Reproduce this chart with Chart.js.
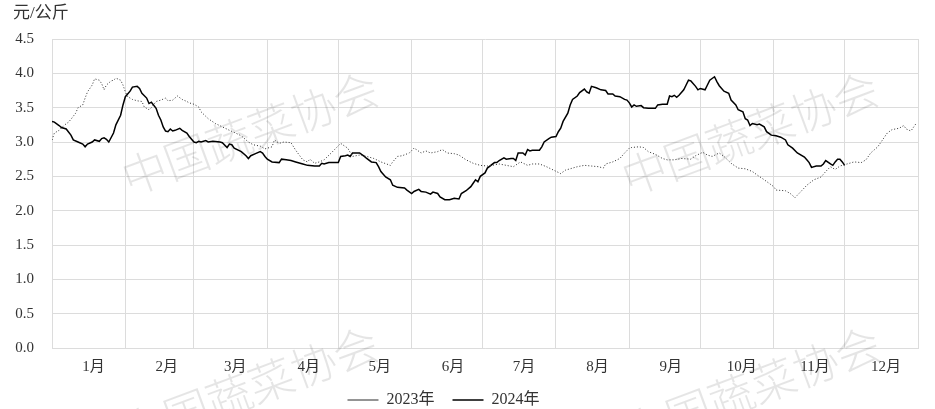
<!DOCTYPE html>
<html>
<head>
<meta charset="utf-8">
<script src="https://cdn.jsdelivr.net/npm/chart.js@4.4.1/dist/chart.umd.min.js"></script>
<style>
  html, body { margin: 0; padding: 0; background: #fff; }
  #wrap { width: 935px; height: 409px; position: relative; }
</style>
</head>
<body>
<div id="wrap"><canvas id="c"></canvas></div>
<script>
// ---- data (day index within the year, value in 元/公斤) ----
const monthLabels = ['1月','2月','3月','4月','5月','6月','7月','8月','9月','10月','11月','12月'];
const monthStarts = [0,31,60,91,121,152,182,213,244,274,305,335,366];
const yTickLabels = ['0.0','0.5','1.0','1.5','2.0','2.5','3.0','3.5','4.0','4.5'];
const seriesNames = ['2023年','2024年'];

const days2023 = [0,1,3,5,7,8,10,11,13,14,15,17,18,20,21,22,23,25,26,27,29,30,31,32,34,35,36,38,39,41,42,44,46,48,49,51,53,55,57,58,60,62,63,66,69,72,75,77,80,83,85,88,90,93,94,96,98,101,103,106,108,109,111,113,115,118,120,122,125,127,130,133,136,139,143,144,146,148,151,153,154,156,158,160,163,165,167,170,172,175,178,181,184,186,189,192,195,198,201,203,206,209,212,215,217,220,222,225,228,231,233,234,237,240,242,244,245,248,250,252,255,258,260,263,266,270,272,275,277,279,282,284,287,290,293,296,298,301,305,306,310,312,314,316,319,322,325,327,329,331,333,336,339,342,344,346,349,351,353,355,358,360,361,363,365];
const values2023 = [3.03,3.13,3.17,3.24,3.29,3.33,3.42,3.50,3.54,3.64,3.73,3.83,3.92,3.90,3.85,3.76,3.83,3.89,3.90,3.93,3.90,3.83,3.73,3.66,3.62,3.61,3.60,3.59,3.51,3.47,3.50,3.59,3.61,3.64,3.60,3.61,3.67,3.62,3.59,3.57,3.55,3.51,3.44,3.34,3.27,3.22,3.17,3.14,3.09,3.00,2.96,2.94,2.90,2.93,3.03,2.98,3.00,2.99,2.88,2.74,2.71,2.75,2.69,2.71,2.74,2.84,2.91,2.98,2.91,2.79,2.81,2.79,2.76,2.71,2.66,2.71,2.79,2.80,2.84,2.91,2.89,2.84,2.87,2.84,2.86,2.89,2.84,2.83,2.81,2.74,2.69,2.66,2.65,2.66,2.68,2.66,2.64,2.71,2.66,2.68,2.68,2.64,2.59,2.54,2.59,2.62,2.64,2.66,2.65,2.64,2.62,2.68,2.71,2.76,2.84,2.91,2.92,2.93,2.92,2.86,2.82,2.76,2.74,2.74,2.76,2.75,2.80,2.85,2.81,2.79,2.84,2.79,2.69,2.62,2.61,2.57,2.52,2.45,2.35,2.30,2.29,2.25,2.19,2.26,2.37,2.45,2.49,2.57,2.64,2.60,2.65,2.68,2.71,2.70,2.74,2.84,2.93,3.03,3.13,3.18,3.20,3.24,3.19,3.16,3.26];

const days2024 = [0,1,3,4,6,8,9,11,13,14,15,17,18,20,21,22,23,24,26,27,29,30,31,33,34,36,37,38,40,41,42,44,45,46,47,48,49,50,51,52,54,55,57,58,60,61,62,63,65,66,68,71,72,74,75,76,77,80,82,83,84,86,88,89,90,91,93,96,97,99,101,103,106,108,111,113,114,115,117,119,121,122,124,125,126,127,129,130,132,133,135,137,138,139,141,143,144,146,149,150,152,153,155,156,158,160,161,163,164,166,168,170,172,173,175,177,178,179,180,181,183,184,187,188,189,191,192,194,195,196,197,199,200,201,202,203,206,207,208,210,211,213,214,215,216,218,219,220,222,223,225,226,227,228,230,232,234,235,237,238,240,242,243,244,245,246,247,249,250,252,255,256,258,260,261,262,263,264,265,267,268,269,270,272,273,274,276,277,278,280,281,282,284,286,287,289,290,292,293,294,295,296,298,299,301,302,304,306,308,310,311,313,315,318,319,320,321,323,325,326,327,329,330,331,332,333,334,335];
const values2024 = [3.30,3.29,3.24,3.21,3.19,3.10,3.03,3.00,2.97,2.93,2.97,3.00,3.03,3.01,3.05,3.06,3.04,3.00,3.13,3.25,3.39,3.54,3.66,3.74,3.80,3.81,3.78,3.71,3.64,3.56,3.58,3.49,3.39,3.32,3.22,3.16,3.15,3.19,3.16,3.17,3.20,3.17,3.13,3.08,3.00,2.99,3.01,3.00,3.02,3.00,3.01,3.00,2.99,2.92,2.97,2.96,2.91,2.86,2.80,2.76,2.80,2.83,2.86,2.84,2.79,2.75,2.71,2.70,2.75,2.74,2.73,2.71,2.68,2.66,2.65,2.65,2.69,2.68,2.70,2.70,2.70,2.79,2.80,2.81,2.79,2.84,2.84,2.84,2.79,2.76,2.71,2.70,2.64,2.57,2.49,2.45,2.37,2.34,2.33,2.30,2.25,2.28,2.31,2.28,2.27,2.24,2.27,2.25,2.20,2.16,2.16,2.18,2.17,2.25,2.29,2.35,2.40,2.45,2.42,2.50,2.55,2.62,2.70,2.70,2.73,2.77,2.75,2.76,2.76,2.73,2.84,2.84,2.81,2.89,2.87,2.88,2.88,2.93,3.00,3.05,3.07,3.08,3.15,3.20,3.30,3.42,3.54,3.62,3.67,3.72,3.77,3.73,3.71,3.81,3.79,3.76,3.75,3.70,3.70,3.67,3.66,3.62,3.61,3.57,3.51,3.54,3.52,3.53,3.50,3.49,3.49,3.54,3.55,3.55,3.67,3.66,3.68,3.65,3.68,3.76,3.83,3.90,3.89,3.81,3.76,3.78,3.76,3.83,3.90,3.95,3.88,3.82,3.74,3.71,3.61,3.54,3.47,3.44,3.34,3.32,3.24,3.27,3.25,3.26,3.22,3.15,3.10,3.09,3.07,3.03,2.96,2.91,2.84,2.78,2.74,2.70,2.63,2.65,2.65,2.68,2.73,2.68,2.66,2.71,2.75,2.75,2.71,2.66];

// ---- helpers ----
const toPoints = (xs, ys) => xs.map((d, i) => ({ x: d, y: ys[i] }));
const labelPos = monthStarts.slice(0, 12).map(s => s + 17.5);
const xTicks = monthStarts.concat(labelPos).sort((a, b) => a - b);
const labelAt = new Map(labelPos.map((p, i) => [p, monthLabels[i]]));
const startSet = new Set(monthStarts);

const GRID = '#dcdcdc';
const TEXT = '#333333';
const SERIF = '"Liberation Serif", "Times New Roman", "Noto Sans CJK SC", serif';

const watermark = {
  id: 'watermark',
  beforeDatasetsDraw(chart) {
    const ctx = chart.ctx;
    const spots = [[250, 133], [750, 133], [250, 388], [752, 388]];
    ctx.save();
    ctx.font = '300 45px "Noto Sans CJK SC", sans-serif';
    ctx.fillStyle = 'rgba(0,0,0,0.10)';
    ctx.textAlign = 'center';
    ctx.textBaseline = 'middle';
    spots.forEach(([x, y]) => {
      ctx.save();
      ctx.translate(x, y);
      ctx.rotate(-20.4 * Math.PI / 180);
      ctx.fillText('中国蔬菜协会', 0, 0);
      ctx.restore();
    });
    ctx.restore();
  }
};

const legendShift = {
  id: 'legendShift',
  afterLayout(chart) {
    const lg = chart.legend;
    if (!lg) return;
    lg.left -= 22; lg.right -= 22;
  }
};

new Chart(document.getElementById('c'), {
  type: 'line',
  data: {
    datasets: [
      {
        label: seriesNames[0],
        data: toPoints(days2023, values2023),
        borderColor: '#2b2b2b',
        backgroundColor: 'rgba(0,0,0,0)',
        borderWidth: 1,
        borderDash: [1, 2],
        pointRadius: 0,
        tension: 0
      },
      {
        label: seriesNames[1],
        data: toPoints(days2024, values2024),
        borderColor: '#000000',
        backgroundColor: 'rgba(0,0,0,0)',
        borderWidth: 1.5,
        pointRadius: 0,
        tension: 0
      }
    ]
  },
  options: {
    responsive: true,
    maintainAspectRatio: false,
    animation: false,
    layout: { padding: { left: 13, right: 17, top: 0, bottom: -9 } },
    plugins: {
      title: {
        display: true,
        text: '元/公斤',
        align: 'start',
        color: TEXT,
        font: { family: SERIF, size: 17, weight: 'normal' },
        padding: { top: 3, bottom: 15.6 }
      },
      legend: {
        position: 'bottom',
        labels: {
          usePointStyle: true,
          pointStyle: 'line',
          pointStyleWidth: 31,
          color: TEXT,
          font: { family: SERIF, size: 16 },
          padding: 18
        }
      },
      tooltip: { enabled: false }
    },
    scales: {
      x: {
        type: 'linear',
        min: 0,
        max: 366,
        afterBuildTicks: axis => { axis.ticks = xTicks.map(v => ({ value: v })); },
        afterFit: axis => { axis.height = 26; },
        grid: {
          color: c => (c.tick && startSet.has(c.tick.value)) ? GRID : 'rgba(0,0,0,0)',
          drawTicks: false,
          lineWidth: 1
        },
        border: { display: true, color: GRID },
        ticks: {
          autoSkip: false,
          maxRotation: 0,
          padding: 10,
          color: TEXT,
          font: { family: SERIF, size: 15 },
          callback: v => labelAt.get(v) || ''
        }
      },
      y: {
        min: 0,
        max: 4.5,
        afterBuildTicks: axis => { axis.ticks = yTickLabels.map(t => ({ value: parseFloat(t) })); },
        afterFit: axis => { axis.width = 39; },
        grid: { color: GRID, drawTicks: false, lineWidth: 1 },
        border: { display: true, color: GRID },
        ticks: {
          padding: 18,
          color: TEXT,
          font: { family: SERIF, size: 15 },
          callback: (v, i) => yTickLabels[i]
        }
      }
    }
  },
  plugins: [watermark, legendShift]
});
</script>
</body>
</html>
